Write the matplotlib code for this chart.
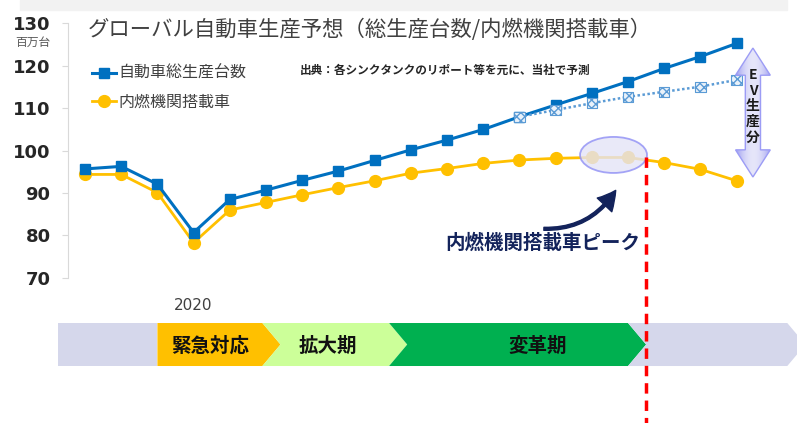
import numpy as np
import matplotlib.pyplot as plt
from matplotlib.patches import Ellipse, Polygon, FancyArrowPatch, Rectangle

plt.rcParams['font.family'] = ['Noto Sans CJK JP', 'DejaVu Sans']

# global vehicle production forecast (million units)
years = np.arange(2017, 2036)
total = [95.7, 96.3, 92.1, 80.7, 88.5, 90.7, 93.0, 95.2, 97.7, 100.2,
         102.5, 105.0, 108.0, 110.8, 113.5, 116.3, 119.4, 122.2, 125.3]
ice = [94.4, 94.4, 90.1, 78.3, 86.0, 87.8, 89.6, 91.3, 92.9, 94.7,
       95.8, 97.0, 97.8, 98.2, 98.4, 98.4, 97.2, 95.6, 92.9]
no_ev_years = np.arange(2029, 2036)
no_ev = [108.0, 109.6, 111.2, 112.7, 113.9, 115.1, 116.7]
peak_years = [2031, 2032]
yticks = [70, 80, 90, 100, 110, 120, 130]

# timeline phases
phase_names = ['', '緊急対応', '拡大期', '変革期', '']
phase_edges = [2016.25, 2019.0, 2021.9, 2025.4, 2032.0, 2036.4]
phase_colors = ['#D5D7EB', '#FFC000', '#CCFF99', '#00B050', '#D5D7EB']

fig = plt.figure(figsize=(7.97, 4.23), dpi=100)
ax = fig.add_axes([0, 0, 1, 1])
ax.patch.set_alpha(0)

# top grey strip (cut off heading)
fig.patches.append(Rectangle((20/797, 1-10/423), 767/797, 10/423,
                             transform=fig.transFigure, color='#F2F2F2', zorder=0))

# lines
ax.plot(years, ice, color='#FFC000', lw=2, marker='o', ms=8.5,
        label='内燃機関搭載車', zorder=3)
ax.plot(years, total, color='#0070C0', lw=2.2, marker='s', ms=7.5,
        label='自動車総生産台数', zorder=4)
ax.plot(no_ev_years, no_ev, color='#5B9BD5', lw=1.8, ls=(0, (1, 1)), zorder=5)
ax.scatter(no_ev_years, no_ev, marker='s', s=55, facecolor='#EAF2FA',
           edgecolor='#5B9BD5', hatch='xxxx', lw=0.8, zorder=6)

# peak ellipse
pk = [ice[list(years).index(y)] for y in peak_years]
ell = Ellipse((np.mean(peak_years) + 0.1, max(pk) + 0.6), 1.85, 8.5,
              facecolor='#E4E4F7', edgecolor='#8F8FF5', lw=1.3, alpha=0.8, zorder=7)
ax.add_patch(ell)

# red dashed line at peak
xr = peak_years[-1] + 0.5
ax.plot([xr, xr], [max(pk), 35], color='#FF0000', lw=2.5, dashes=(3, 2), zorder=9)

# peak label and curved arrow
ax.text(2029.65, 78.2, '内燃機関搭載車ピーク', ha='center', va='center',
        fontsize=14, fontweight='bold', color='#13235B', zorder=8)
arr = FancyArrowPatch((2029.6, 81.6), (2031.7, 91.2), connectionstyle='arc3,rad=0.3',
                      arrowstyle='simple,head_length=1.1,head_width=1.2,tail_width=0.18',
                      mutation_scale=12, color='#13235B', zorder=8)
ax.add_patch(arr)

# EV double arrow
xc = years[-1] + 0.45
top, bot = total[-1] - 1.1, ice[-1] + 0.9
hw, sw, hl = 0.48, 0.21, 6.4
verts = [(xc, top), (xc + hw, top - hl), (xc + sw, top - hl), (xc + sw, bot + hl),
         (xc + hw, bot + hl), (xc, bot), (xc - hw, bot + hl), (xc - sw, bot + hl),
         (xc - sw, top - hl), (xc - hw, top - hl)]
poly = Polygon(verts, closed=True, facecolor='none', edgecolor='#9C9CF5', lw=1, zorder=6)
ax.add_patch(poly)
grad = np.linspace(-1, 1, 64)
c0 = np.array([0.90, 0.90, 0.98])
c1 = np.array([0.62, 0.62, 0.94])
img = (c0[None, :] + (c1 - c0)[None, :] * (grad ** 2)[:, None])[None, :, :]
im = ax.imshow(img, extent=[xc - hw, xc + hw, bot, top], aspect='auto', zorder=5)
im.set_clip_path(poly)
ax.text(xc, (top + bot) / 2 + 1.5, 'E\nV\n生\n産\n分', ha='center', va='center',
        fontsize=10, fontweight='bold', color='#1A1A1A', linespacing=1.15, zorder=7)

# timeline
tb, tt = 49.22, 59.36
tm = (tb + tt) / 2
tip = 0.5
for i in range(len(phase_colors)):
    x0, x1 = phase_edges[i], phase_edges[i + 1]
    pts = [(x0, tb), (x1, tb)]
    if i > 0:
        pts += [(x1 + tip, tm)]
    pts += [(x1, tt), (x0, tt)]
    if i > 1:
        pts += [(x0 + tip, tm)]
    ax.add_patch(Polygon(pts, closed=True, facecolor=phase_colors[i],
                         edgecolor='none', zorder=2 + 0.1 * i))
label_x = [None, 2020.45, 2023.7, 2029.5, None]
for name, lx in zip(phase_names, label_x):
    if name:
        ax.text(lx, tm - 0.4, name, ha='center', va='center', fontsize=14,
                fontweight='bold', color='#111111', zorder=4)

ax.annotate('2020', (2020, 70), xytext=(0, -20), textcoords='offset points',
            ha='center', va='center', fontsize=11, color='#404040',
            family='DejaVu Sans')

# axes
ax.set_xlim(2014.652, 2036.668)
ax.set_ylim(35.78, 135.54)
for s in ['top', 'right', 'bottom']:
    ax.spines[s].set_visible(False)
ax.spines['left'].set_position(('data', 2016.53))
ax.spines['left'].set_bounds(70, 130)
ax.spines['left'].set_color('#D9D9D9')
ax.set_xticks([])
ax.set_yticks(yticks)
ax.tick_params(axis='y', length=4.5, color='#D9D9D9', pad=8, labelsize=13,
               labelcolor='#262626')
for lbl in ax.get_yticklabels():
    lbl.set_fontweight('bold')
    lbl.set_family('DejaVu Sans')

# texts
fig.text(33/797, 1-42/423, '百万台', ha='center', va='center', fontsize=8.5, color='#595959')
fig.text(88/797, 1-30/423, 'グローバル自動車生産予想（総生産台数/内燃機関搭載車）',
         va='center', fontsize=15.4, color='#404040')
fig.text(300/797, 1-70/423, '出典：各シンクタンクのリポート等を元に、当社で予測',
         va='center', fontsize=8.4, fontweight='bold', color='#262626')

h, l = ax.get_legend_handles_labels()
ax.legend(h[::-1], l[::-1], loc='upper left', bbox_to_anchor=(0.105, 0.865),
          bbox_transform=fig.transFigure, frameon=False, fontsize=11.5,
          handlelength=1.5, handletextpad=0.2, labelspacing=0.75, borderpad=0,
          labelcolor='#404040')

fig.savefig('out.png', dpi=100)
